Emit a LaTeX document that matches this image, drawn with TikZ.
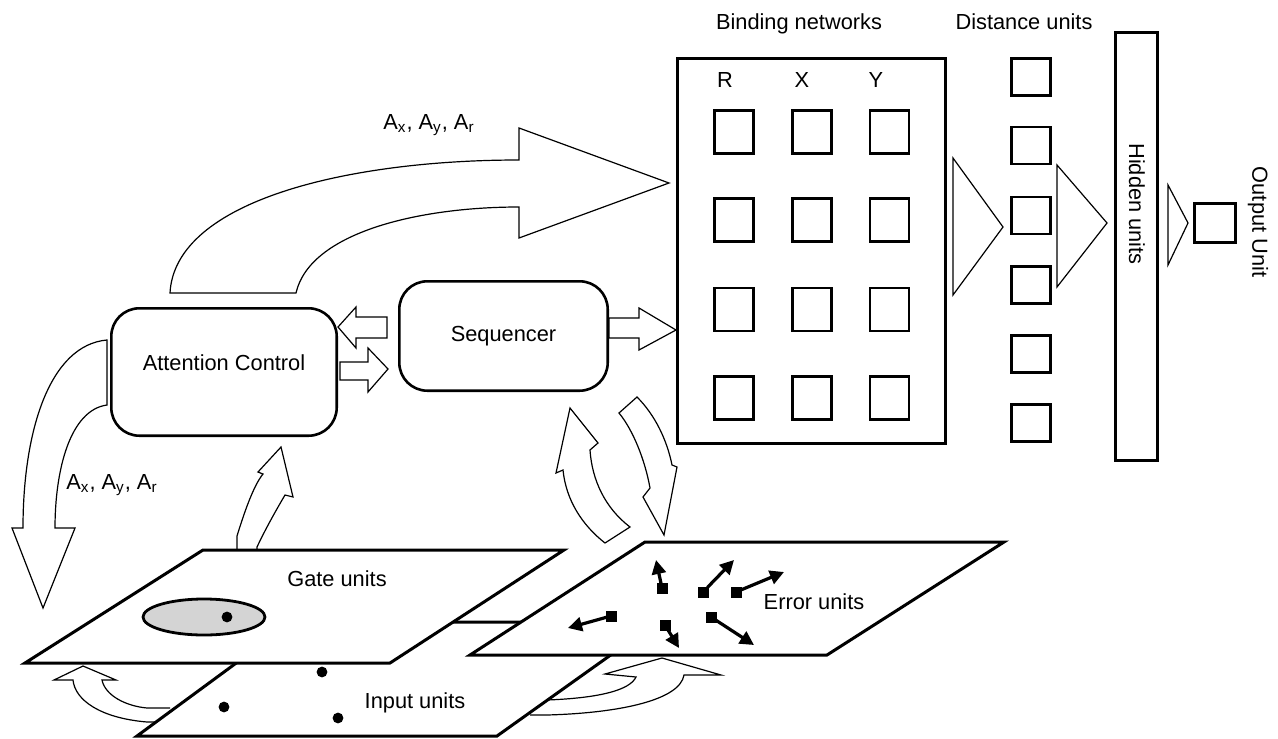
\documentclass[tikz,border=0pt]{standalone}
\usepackage{fontspec}
\setmainfont{Liberation Sans}
\usetikzlibrary{positioning, arrows.meta, shapes.geometric, calc}
\tikzset{
    lbl/.style = {inner sep=0pt, font=\fontsize{10.9}{13}\selectfont},
    ctrl/.style = {draw, line width=1.3pt, rounded corners=14pt, inner sep=0pt,
                   font=\fontsize{10.9}{13}\selectfont},
    box/.style = {draw, line width=1.4pt, inner sep=0pt},
    cell/.style = {draw, line width=1.4pt, minimum width=19.5pt,
                   minimum height=21.5pt, inner sep=0pt},
    dcell/.style = {draw, line width=1.4pt, minimum width=19.5pt,
                    minimum height=18.5pt, inner sep=0pt},
    blk/.style = {draw, line width=0.6pt, fill=white, line join=miter},
    plane/.style = {draw, line width=1.5pt, fill=white, line join=miter},
    dot/.style = {circle, fill, inner sep=0pt, minimum size=5.4pt},
    eunit/.style = {fill, inner sep=0pt, minimum size=5.5pt},
    earrow/.style = {-{Triangle[length=7pt, width=7pt]}, line width=1.6pt, shorten <=-1pt},
}

\begin{document}
\begin{tikzpicture}[x=0.5pt, y=-0.5pt]
    \useasboundingbox (0,0) rectangle (1278,738);

    % control boxes
    \node[ctrl, minimum width=112.7pt, minimum height=63.7pt] (att) at (224,372) {};
    \node[lbl] (attlbl) at (224,363) {Attention Control};
    \node[ctrl, minimum width=104.2pt, minimum height=54.7pt] (seq) at (503.5,336) {Sequencer};

    % binding networks
    \node[box, minimum width=134.1pt, minimum height=192.6pt] (bind) at (811.5,251) {};
    \node[lbl] (bindlbl) at (799,24) {Binding networks};
    \foreach \c/\x in {R/725, X/802, Y/876}
        \node[lbl] (col\c) at (\x,80) {\c};
    \foreach \x [count=\i] in {734, 812, 889.5}
        \foreach \y [count=\j] in {132, 220, 309.5, 398}
            \node[cell] (b\i\j) at (\x,\y) {};

    % distance, hidden and output units
    \node[lbl] (distlbl) at (1024,22) {Distance units};
    \foreach \y [count=\j] in {77, 145.5, 215.5, 285, 354, 423}
        \node[dcell] (d\j) at (1031,\y) {};
    \node[box, minimum width=21.1pt, minimum height=214.1pt] (hid) at (1136.5,246.5) {};
    \node[lbl, rotate=-90] (hidlbl) at (1137,204) {Hidden units};
    \node[box, minimum width=20.6pt, minimum height=19.6pt] (out) at (1215,223) {};
    \node[lbl, rotate=-90] (outlbl) at (1258,222) {Output Unit};

    % feed-forward wedges
    \draw[blk] (953,158) -- (1003,227) -- (953,295) -- cycle;
    \draw[blk] (1057,165) -- (1107,223) -- (1057,287) -- cycle;
    \draw[blk] (1168,185) -- (1188,223) -- (1168,265) -- cycle;

    % attention to binding networks
    \draw[blk] (170,293) .. controls (175,200) and (350,160) .. (519,160)
        -- (519,128) -- (669,183) -- (519,238) -- (519,207)
        .. controls (420,207) and (310,232) .. (296,293) -- cycle;
    \node[lbl] (toplbl) at (429,125) {A\textsubscript{x}, A\textsubscript{y}, A\textsubscript{r}};

    % attention to gate units
    \draw[blk] (107,340) .. controls (50,345) and (23,430) .. (23,528)
        -- (12,528) -- (43,608) -- (75,528) -- (55,528)
        .. controls (55,470) and (70,410) .. (107,405) -- cycle;
    \node[lbl] (leftlbl) at (112,485) {A\textsubscript{x}, A\textsubscript{y}, A\textsubscript{r}};

    % between the boxes
    \draw[blk] (387,317) -- (356,317) -- (356,307) -- (338,327)
        -- (356,348) -- (356,338) -- (387,338) -- cycle;
    \draw[blk] (340,362) -- (368,362) -- (368,348) -- (388,369)
        -- (368,392) -- (368,380) -- (340,380) -- cycle;
    \draw[blk] (609,318) -- (639,318) -- (639,308) -- (676,330)
        -- (639,350) -- (639,338) -- (609,338) -- cycle;

    % loop between sequencer and error units
    \draw[blk] (605,543) .. controls (582,525) and (566,500) .. (563,470)
        -- (556,473) -- (570,408) -- (598,443) -- (590,450)
        .. controls (592,480) and (605,508) .. (630,527) -- cycle;
    \draw[blk] (619,413) .. controls (633,430) and (645,460) .. (650,488)
        -- (643,497) -- (664,535) -- (677,467) -- (672,465)
        .. controls (667,440) and (655,415) .. (637,397) -- cycle;

    % input units to the other planes
    \draw[blk] (170,722) -- (147,722) .. controls (100,718) and (75,700) .. (73,680)
        -- (54,680) -- (83,666) -- (116,680) -- (102,680)
        .. controls (105,695) and (125,706) .. (147,708) -- (170,708);
    \draw[blk] (530,700) -- (547,700) .. controls (600,698) and (630,690) .. (636,677)
        -- (605,674) -- (662,658) -- (721,675) -- (684,675)
        .. controls (680,700) and (620,713) .. (547,715) -- (530,715);

    % planes
    \draw[plane] (292,622) -- (657,622) -- (497,736) -- (137,736) -- cycle;
    \node[lbl] (inlbl) at (415,703) {Input units};
    \foreach \x/\y [count=\i] in {224/707, 322/672, 338/718}
        \node[dot] (in\i) at (\x,\y) {};

    % gate units to attention
    \draw[blk] (237,550) -- (237,536) .. controls (245,510) and (254,485) .. (263,474)
        -- (258,472) -- (281,447) -- (293,497) -- (285,495)
        .. controls (275,512) and (265,530) .. (257,547) -- (257,550);

    \draw[plane] (203,550) -- (564,550) -- (390,663) -- (25,663) -- cycle;
    \node[lbl] (gatelbl) at (337,579) {Gate units};
    \node[ellipse, draw, line width=1.4pt, fill=black!17, inner sep=0pt,
          minimum width=61pt, minimum height=18pt] (focus) at (204,617) {};
    \node[dot] (g1) at (227,617) {};

    \draw[plane] (645,542) -- (1004,542) -- (827,655) -- (470,655) -- cycle;
    \node[lbl] (errlbl) at (814,602) {Error units};
    \foreach \x/\y/\u/\v [count=\i] in {662/588/656/560, 703/592/734/560,
            736/592/784/572, 611/616/568/628, 665/625/679/648, 711/617/754/645} {
        \node[eunit] (e\i) at (\x,\y) {};
        \coordinate (t\i) at (\u,\v);
        \draw[earrow] (e\i) -- (t\i);
    }
\end{tikzpicture}
\end{document}
